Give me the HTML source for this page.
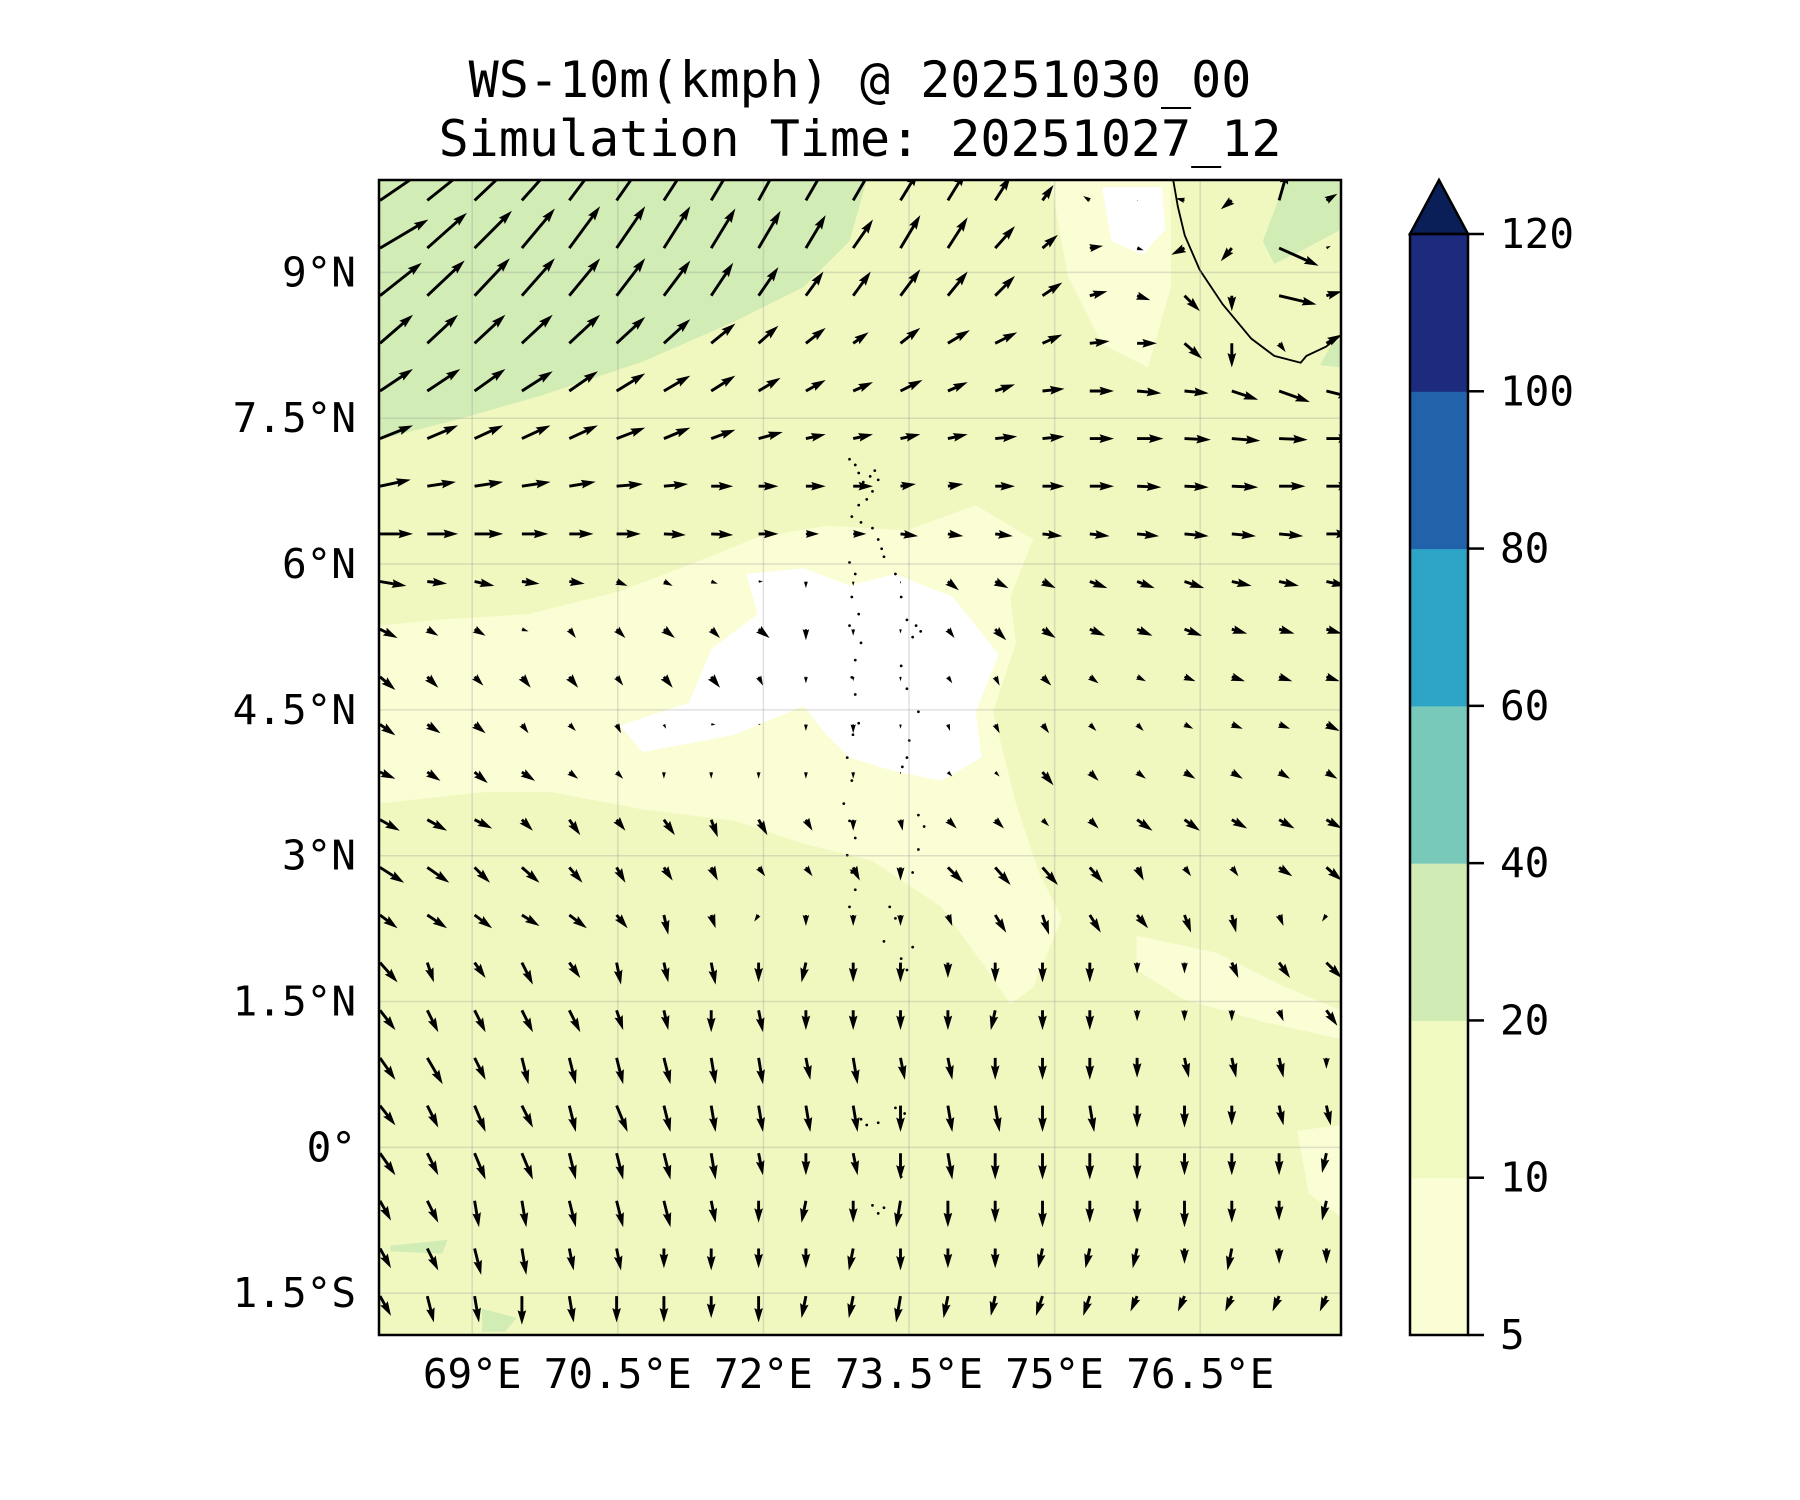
<!DOCTYPE html>
<html><head><meta charset="utf-8"><style>
html,body{margin:0;padding:0;background:#fff;}
svg{display:block;font-family:"DejaVu Sans Mono","Liberation Mono",monospace;}
</style></head><body>
<svg id="chart" width="1800" height="1500" viewBox="0 0 1800 1500" xmlns="http://www.w3.org/2000/svg">
<rect width="1800" height="1500" fill="#fff"/>
<text x="860" y="97" font-size="50" text-anchor="middle">WS-10m(kmph) @ 20251030_00</text>
<text x="860" y="156" font-size="50" text-anchor="middle">Simulation Time: 20251027_12</text>
<defs><clipPath id="plotclip"><rect x="379" y="180" width="962" height="1155"/></clipPath></defs>
<g id="plot" clip-path="url(#plotclip)">
<rect x="379" y="180" width="962" height="1155" fill="#f0f8bf"/>
<g transform="scale(1.148)">
<path fill="#d1ecb5" d="M330,157 L755,157 740,210 700,250 640,280 560,315 470,345 400,365 330,383Z M1120,157 L1168,157 1168,200 1140,215 1110,230 1100,210Z M1160,300 L1168,295 1168,320 1150,318Z M340,1085 L390,1080 385,1092 340,1090Z M420,1140 L450,1148 440,1160 420,1160Z"/>
<path fill="#fbfdd4" d="M330,545 L380,540 460,535 540,515 600,492 660,468 720,458 790,462 850,440 900,470 880,520 885,560 865,620 885,700 905,760 925,800 900,860 880,875 860,845 820,790 760,750 700,735 640,715 560,705 480,690 420,690 330,700Z M915,157 L1020,157 1020,250 1000,320 960,300 930,240Z M990,815 L1060,830 1120,860 1168,880 1168,905 1100,890 1030,870 990,845Z M1130,985 L1168,980 1168,1060 1140,1040Z"/>
<path fill="#ffffff" d="M650,500 L700,495 740,510 780,500 830,520 870,570 850,620 855,660 820,680 780,672 740,660 720,640 700,615 640,640 560,655 540,632 600,612 620,565 660,535Z M960,163 L1012,163 1015,200 995,222 968,210Z"/>
<path fill="none" stroke="#000" stroke-width="1.6" d="M1022,157 L1026,180 1032,205 1045,235 1065,265 1090,295 1110,310 1133,316 1138,310 1155,302 1168,292"/>
<g id="islands" fill="#000"></g>
</g>
<g id="grid"></g>
<g id="arrows"></g>
</g>
<rect x="379" y="180" width="962" height="1155" fill="none" stroke="#000" stroke-width="2.5"/>
<g id="axes"></g>
<g id="cbar"></g>
</svg>
<script>
const latTicks=[9,7.5,6,4.5,3,1.5,0,-1.5];
const latLabels=["9°N","7.5°N","6°N","4.5°N","3°N","1.5°N","0°","1.5°S"];
const lonTicks=[69,70.5,72,73.5,75,76.5];
const lonLabels=["69°E","70.5°E","72°E","73.5°E","75°E","76.5°E"];
const cbarLevels=[5,10,20,40,60,80,100,120];
const cbarColors=["#fbfed5","#f0f9bf","#d0ebb4","#79c9bb","#2da3c6","#2262aa","#1d2b7e"];
const cbarOver="#0a1f58";
const gridLon0=68.05, gridLat0=9.74, gridStep=0.4875, gridStepLat=0.49;
const windU=[
[22,20,18,17,15,14,13,12,11,11,11,8,8,7,5,-3,0.5,-4,-5,4,5],
[22,18,17,15,14,13,12,11,10,9,9,9,9,9,7,6,3,-6,-5,18,2],
[19,17,16,15,14,13,12,10,9,8,8,9,9,9,9,8,6,7,0,17,7],
[15,14,14,14,14,13,12,11,9,9,7,9,10,10,9,9,9,8,0,3,7],
[15,15,14,14,13,13,12,11,10,9,9,10,9,9,10,11,11,11,12,14,12],
[15,14,13,13,13,13,12,11,11,9,9,9,9,10,10,11,12,12,13,13,12],
[14,13,13,13,12,12,11,10,9,9,9,7,7,9,10,11,11,11,12,12,12],
[15,14,13,12,11,11,10,10,9,6,6,8,7,8,9,9,10,11,11,11,11],
[12,9,9,8,7,5,4,3,2,0,0,0,5,6,6,8,8,9,9,9,9],
[8,5,5,3,3,4,5,4,5,0,0,0,3,5,6,7,7,8,7,7,7],
[7,5,4,4,4,3,4,4,2,0,0,0,2,2,4,4,4,5,6,6,6],
[7,6,5,3,3,2,1,2,1,0,0,0,1,2,3,3,3,4,5,5,6],
[7,6,6,6,4,3,0,0,0,0,0,0,2,2,5,4,4,5,5,5,5],
[9,9,8,5,5,4,5,3,4,3,0,1,4,4,3,4,7,7,7,7,7],
[11,10,7,8,6,4,4,3,3,3,3,0,7,7,7,6,3,3,3,6,7],
[8,9,8,8,8,5,2,2,-2,0,0,0,2,5,3,5,5,3,2,2,-2],
[8,3,5,5,5,2,2,2,0,-2,0,0,0,0,0,0,0,0,3,5,7],
[7,5,5,5,5,3,2,0,2,0,0,0,0,-2,0,0,0,0,0,2,5],
[7,7,5,3,3,3,3,2,2,2,2,2,2,0,0,0,0,2,2,2,0],
[7,5,5,5,3,5,3,2,2,2,2,0,2,2,0,2,0,0,0,2,2],
[7,5,5,5,3,3,3,2,2,0,2,0,2,0,0,0,0,0,0,0,-2],
[5,5,2,2,3,3,3,2,0,-2,0,-2,0,0,0,0,0,0,0,0,-2],
[5,5,3,2,2,2,0,0,0,0,-2,0,0,0,-2,-2,-2,0,-2,0,0],
[5,3,2,0,2,0,0,0,0,-2,-2,-2,-2,-2,-3,-3,-3,-3,-3,-3,-3]];
const windV=[
[15,16,17,19,20,20,20,20,20,19,19,13,13,11,7,2,0,1,-4,14,3],
[13,16,17,18,19,19,19,18,17,15,13,15,14,10,6,1,-1,-3,-6,-8,1],
[15,16,17,17,17,17,16,15,13,11,11,12,11,9,6,2,-2,-7,-7,-4,2],
[13,13,13,13,13,12,11,9,8,7,5,7,6,5,4,1,0,-7,-11,-4,4],
[10,10,10,9,9,8,7,7,6,5,4,5,4,3,1,0,-1,-1,-4,-5,-3],
[6,6,6,6,6,5,5,4,3,2,2,2,2,1,1,0,0,-0.5,-1,-0.5,0],
[3,2,2,2,2,1,1,0,0,0,0,1,1,0,0,0,-0.5,-0.5,-0.5,0,0],
[0,0,0,0,0,0,-0.5,-0.5,0,0,0,-1,-1,-1,-1,-1,-1,-1,-1,-1,0],
[-2,-1,-2,-1,-1,-2,-2,-1,0,-3,-2,-1,-4,-3,-3,-3,-3,-3,-2,-2,-2],
[-4,-3,-3,-1,-4,-4,-4,-4,-4,-5,-3,-2,-4,-5,-4,-3,-3,-3,-2,-2,-2],
[-6,-5,-4,-5,-5,-4,-5,-5,-4,-3,-2,-2,-3,-4,-4,-3,-2,-2,-2,-2,-2],
[-5,-4,-4,-4,-3,-4,-2,0,0,-3,-4,-2,-3,-4,-4,-3,-3,-2,-2,-2,-3],
[-3,-4,-5,-4,-3,-3,-3,-3,-3,-3,-3,-1,-2,-2,-6,-4,-3,-3,-3,-3,-3],
[-5,-5,-4,-5,-7,-5,-7,-8,-7,-5,-5,-5,-4,-4,-3,-4,-5,-5,-4,-4,-4],
[-7,-7,-7,-7,-7,-7,-6,-6,-4,-4,-6,-6,-7,-8,-8,-7,-6,-4,-4,-4,-6],
[-6,-6,-6,-5,-6,-6,-9,-6,-3,-5,-5,-5,-5,-8,-9,-8,-6,-8,-8,-5,-3],
[-9,-9,-7,-10,-7,-10,-9,-10,-9,-9,-9,-9,-7,-9,-9,-9,-5,-5,-7,-7,-7],
[-9,-10,-10,-10,-10,-9,-9,-10,-10,-9,-9,-9,-9,-9,-9,-9,-5,-5,-5,-5,-7],
[-10,-12,-10,-12,-12,-12,-12,-12,-12,-10,-12,-10,-10,-10,-10,-10,-9,-9,-9,-9,-5],
[-9,-10,-12,-10,-12,-12,-12,-12,-12,-12,-12,-12,-12,-12,-12,-12,-10,-10,-9,-9,-9],
[-10,-10,-12,-12,-12,-12,-12,-12,-10,-10,-10,-12,-12,-12,-12,-12,-12,-10,-10,-10,-9],
[-9,-10,-12,-12,-12,-12,-12,-10,-10,-10,-10,-12,-12,-10,-12,-10,-10,-12,-10,-9,-9],
[-9,-10,-12,-12,-10,-10,-9,-10,-9,-9,-10,-10,-9,-9,-9,-9,-9,-7,-10,-7,-7],
[-9,-12,-12,-13,-12,-12,-12,-10,-12,-10,-10,-12,-10,-9,-9,-9,-7,-7,-7,-7,-7]];
const islandPts=[[740,400],[745,405],[748,412],[752,420],[758,415],[762,410],[765,418],[760,428],[755,435],[748,440],[742,450],[750,455],[760,460],[765,470],[768,478],[770,485],[740,490],[745,500],[742,520],[748,535],[740,545],[750,560],[745,575],[742,590],[745,605],[748,630],[743,640],[780,500],[785,520],[790,540],[798,545],[802,550],[795,555],[785,580],[790,600],[800,620],[792,645],[790,660],[786,668],[738,660],[742,680],[735,700],[740,715],[745,730],[738,745],[742,760],[745,775],[740,790],[800,710],[805,720],[800,740],[795,760],[775,790],[780,800],[770,820],[785,835],[790,845],[795,825],[750,975],[755,980],[765,978],[780,965],[788,970],[785,1025],[760,1050],[765,1057],[770,1052]];
const SVGNS="http://www.w3.org/2000/svg";
const PX0=379,PX1=1341,PY0=180,PY1=1335,LON0=68.04,LON1=77.95,LAT0=-1.93,LAT1=9.95;
function xScale(lon){return PX0+(lon-LON0)/(LON1-LON0)*(PX1-PX0);}
function yScale(lat){return PY1-(lat-LAT0)/(LAT1-LAT0)*(PY1-PY0);}
function mk(tag,attrs,parent){const e=document.createElementNS(SVGNS,tag);for(const k in attrs)e.setAttribute(k,attrs[k]);parent.appendChild(e);return e;}
const isl=document.getElementById('islands');
islandPts.forEach(p=>{const c=mk('circle',{cx:p[0],cy:p[1],r:1.2},isl);

});
const grid=document.getElementById('grid');
lonTicks.forEach(l=>{const ln=mk('line',{x1:xScale(l),x2:xScale(l),y1:PY0,y2:PY1,stroke:'#999',"stroke-opacity":0.3,"stroke-width":1.5},grid);

});
latTicks.forEach(l=>{const ln=mk('line',{x1:PX0,x2:PX1,y1:yScale(l),y2:yScale(l),stroke:'#999',"stroke-opacity":0.3,"stroke-width":1.5},grid);

});
const axes=document.getElementById('axes');
latTicks.forEach((l,i)=>{const t=mk('text',{x:356,y:yScale(l)+14,"font-size":41,"text-anchor":"end"},axes);t.textContent=latLabels[i];

});
lonTicks.forEach((l,i)=>{const t=mk('text',{x:xScale(l),y:1388,"font-size":41,"text-anchor":"middle"},axes);t.textContent=lonLabels[i];

});
const arr=document.getElementById('arrows');
const K=2.2,W=2.9,HL=5*W,HAL=4.5*W,HW=3*W;
for(let j=0;j<windU.length;j++){for(let i=0;i<windU[j].length;i++){
 const u=windU[j][i],v=windV[j][i];const x=xScale(gridLon0+gridStep*i),y=yScale(gridLat0-gridStepLat*j);
 const L=Math.hypot(u,v)*K;if(L<1)continue;
 let s=1,len=L;if(L<HL){s=L/HL;len=HL;}
 const w=W/2*s,hw=HW/2*s,hl=HL*s,hal=HAL*s;const Lt=len*s;
 const pts=[[0,-w],[Lt-hal,-w],[Lt-hl,-hw],[Lt,0],[Lt-hl,hw],[Lt-hal,w],[0,w]];
 const ang=Math.atan2(-v,u)*180/Math.PI;
 const p=mk('polygon',{points:pts.map(q=>q[0].toFixed(2)+','+q[1].toFixed(2)).join(' '),fill:'#000',transform:`translate(${x.toFixed(1)},${y.toFixed(1)}) rotate(${ang.toFixed(1)})`},arr);
 
 
}}
const cb=document.getElementById('cbar');
const CX=1410,CW=58,CY0=234,CY1=1335;
function cbY(i){return CY1-i/(cbarLevels.length-1)*(CY1-CY0);}
cbarColors.forEach((c,i)=>{const r=mk('rect',{x:CX,y:cbY(i+1),width:CW,height:cbY(i)-cbY(i+1)+0.5,fill:c},cb);

});
const tri=mk('polygon',{points:`${CX},${CY0} ${CX+CW/2},180 ${CX+CW},${CY0}`,fill:cbarOver,stroke:'#000',"stroke-width":2.5},cb);


const fr=mk('rect',{x:CX,y:CY0,width:CW,height:CY1-CY0,fill:'none',stroke:'#000',"stroke-width":2.5},cb);


cbarLevels.forEach((lv,i)=>{const y=cbY(i);
 const tk=mk('line',{x1:CX+CW,x2:CX+CW+16,y1:y,y2:y,stroke:'#000',"stroke-width":2.5},cb);
 
 
 const t=mk('text',{x:1500,y:y+14,"font-size":41},cb);t.textContent=lv;
 
 });
</script>
</body></html>
